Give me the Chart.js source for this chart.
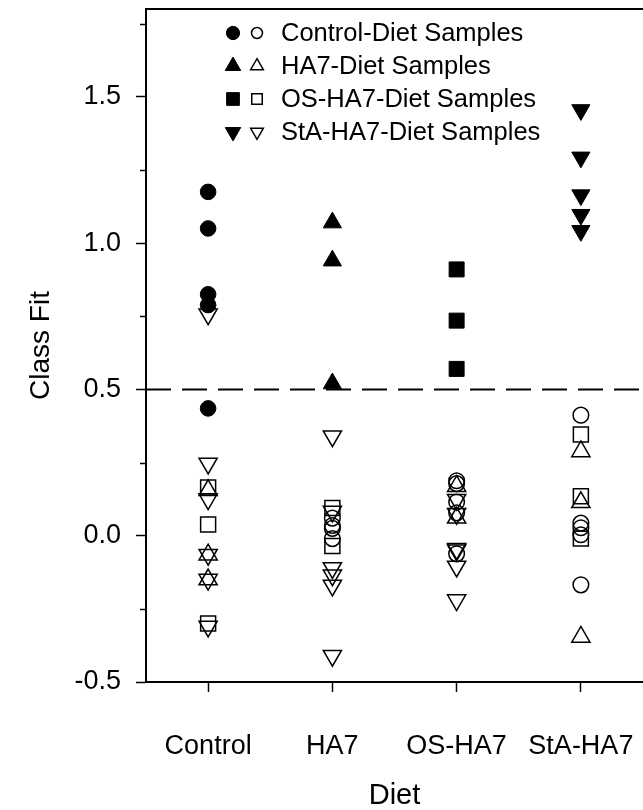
<!DOCTYPE html>
<html>
<head>
<meta charset="utf-8">
<script src="https://cdn.jsdelivr.net/npm/chart.js@4.4.0/dist/chart.umd.min.js"></script>
<style>
  html, body { margin: 0; padding: 0; background: #fff; }
</style>
</head>
<body>
<canvas id="chart" width="643" height="810"></canvas>
<script>
// ---- data ----
const categories = ['Control', 'HA7', 'OS-HA7', 'StA-HA7'];
const yTicks = [-0.5, 0, 0.5, 1.0, 1.5];
const yMinorTicks = [-0.25, 0.25, 0.75, 1.25, 1.75];
const cutoff = 0.5;

// class fit of each diet group's samples, one inner array per class column
const controlFit = [[1.175, 1.05, 0.825, 0.788, 0.435], [0.06, 0.035, 0.025, -0.01], [0.188, 0.178, 0.115, 0.078, -0.062], [0.412, 0.043, 0.027, 0.003, -0.168]];
const ha7Fit = [[0.155, -0.065, -0.15], [1.07, 0.94, 0.52], [0.169, 0.061], [0.288, 0.114, -0.346]];
const osFit = [[0.165, 0.038, -0.30], [0.095, -0.035], [0.91, 0.735, 0.57], [0.346, 0.135, -0.01]];
const staFit = [[0.757, 0.247, 0.125, -0.065, -0.15, -0.31], [0.34, 0.083, -0.11, -0.135, -0.17, -0.41], [0.123, 0.075, -0.045, -0.05, -0.105, -0.22], [1.455, 1.293, 1.164, 1.097, 1.042]];

const FONT = "'Liberation Sans', Arial, sans-serif";

const groups = [
  { label: 'Control-Diet Samples', style: 'circle', rotation: 0, radius: 7.8, fit: controlFit },
  { label: 'HA7-Diet Samples', style: 'triangle', rotation: 0, radius: 10.5, fit: ha7Fit },
  { label: 'OS-HA7-Diet Samples', style: 'rect', rotation: 0, radius: 10.6, fit: osFit },
  { label: 'StA-HA7-Diet Samples', style: 'triangle', rotation: 180, radius: 10.5, fit: staFit }
];

const datasets = [];
groups.forEach((g, gi) => {
  // samples in their own class column are drawn filled
  datasets.push({
    label: g.label + ' (own class)',
    data: g.fit[gi].map(v => ({ x: gi + 1, y: v })),
    pointStyle: g.style, rotation: g.rotation, pointRadius: g.radius,
    backgroundColor: '#000', borderColor: '#000', borderWidth: 1
  });
  // in every other column they are open
  datasets.push({
    label: g.label,
    data: g.fit.flatMap((col, ci) => ci === gi ? [] : col.map(v => ({ x: ci + 1, y: v }))),
    pointStyle: g.style, rotation: g.rotation, pointRadius: g.radius,
    backgroundColor: 'rgba(0,0,0,0)', borderColor: '#000', borderWidth: 1.5
  });
});

// dashed class-fit cutoff
datasets.push({
  type: 'line',
  label: 'cutoff',
  data: [{ x: 0.5, y: cutoff }, { x: 4.5, y: cutoff }],
  borderColor: '#000', borderWidth: 2, borderDash: [25, 11],
  pointRadius: 0, fill: false
});

const framePlugin = {
  id: 'frame',
  afterDraw(chart) {
    const { ctx, chartArea } = chart;
    const ys = chart.scales.y;
    ctx.save();
    ctx.strokeStyle = '#000';
    // top border
    ctx.lineWidth = 2;
    ctx.beginPath();
    ctx.moveTo(chartArea.left - 1, chartArea.top);
    ctx.lineTo(chartArea.right, chartArea.top);
    ctx.stroke();
    // minor ticks
    ctx.lineWidth = 1.5;
    yMinorTicks.forEach(v => {
      const y = Math.round(ys.getPixelForValue(v)) + 0.5;
      ctx.beginPath();
      ctx.moveTo(chartArea.left - 6, y);
      ctx.lineTo(chartArea.left, y);
      ctx.stroke();
    });

    // legend: filled + open symbol, then text
    const rowY = [33, 66, 99, 132];
    ctx.font = '25.5px ' + FONT;
    ctx.textBaseline = 'middle';
    groups.forEach((g, i) => {
      const y = rowY[i];
      ctx.fillStyle = '#000';
      ctx.lineWidth = 1;
      Chart.helpers.drawPoint(ctx, { pointStyle: g.style, rotation: g.rotation, radius: g.radius * 0.85, borderWidth: 1 }, 233, y);
      ctx.fillStyle = 'rgba(0,0,0,0)';
      ctx.lineWidth = 1.5;
      Chart.helpers.drawPoint(ctx, { pointStyle: g.style, rotation: g.rotation, radius: g.radius * 0.7, borderWidth: 1.5 }, 257, y);
      ctx.fillStyle = '#000';
      ctx.fillText(g.label, 281, y + 1);
    });
    ctx.restore();
  }
};

new Chart(document.getElementById('chart'), {
  type: 'scatter',
  data: { datasets },
  options: {
    responsive: false,
    devicePixelRatio: 1,
    animation: false,
    layout: { autoPadding: false, padding: { top: 9, left: 0, right: 0, bottom: 0 } },
    plugins: { legend: { display: false }, tooltip: { enabled: false } },
    scales: {
      x: {
        type: 'linear', min: 0.5, max: 4.5,
        afterBuildTicks: s => { s.ticks = categories.map((c, i) => ({ value: i + 1 })); },
        afterFit: s => { s.height = 128; s.paddingLeft = 0; s.paddingRight = 0; },
        ticks: {
          callback: v => categories[Math.round(v) - 1],
          color: '#000', font: { family: FONT, size: 27 }, padding: 38, maxRotation: 0, autoSkip: false
        },
        grid: { display: true, drawOnChartArea: false, drawTicks: true, tickLength: 10, tickColor: '#000', tickWidth: 1.5 },
        border: { display: true, color: '#000', width: 2 },
        title: { display: true, text: 'Diet', color: '#000', font: { family: FONT, size: 29, lineHeight: 1 }, padding: { top: 0, bottom: 0 } }
      },
      y: {
        min: -0.5, max: 1.8,
        afterBuildTicks: s => { s.ticks = yTicks.map(v => ({ value: v })); },
        afterFit: s => { s.width = 146; s.paddingTop = 0; s.paddingBottom = 0; },
        ticks: {
          callback: v => v.toFixed(1),
          color: '#000', font: { family: FONT, size: 27 }, padding: 15
        },
        grid: { display: true, drawOnChartArea: false, drawTicks: true, tickLength: 10, tickColor: '#000', tickWidth: 1.5 },
        border: { display: true, color: '#000', width: 2 },
        title: { display: true, text: 'Class Fit', color: '#000', font: { family: FONT, size: 28 }, padding: { top: 24, bottom: 0 } }
      }
    }
  },
  plugins: [framePlugin]
});
</script>
</body>
</html>
